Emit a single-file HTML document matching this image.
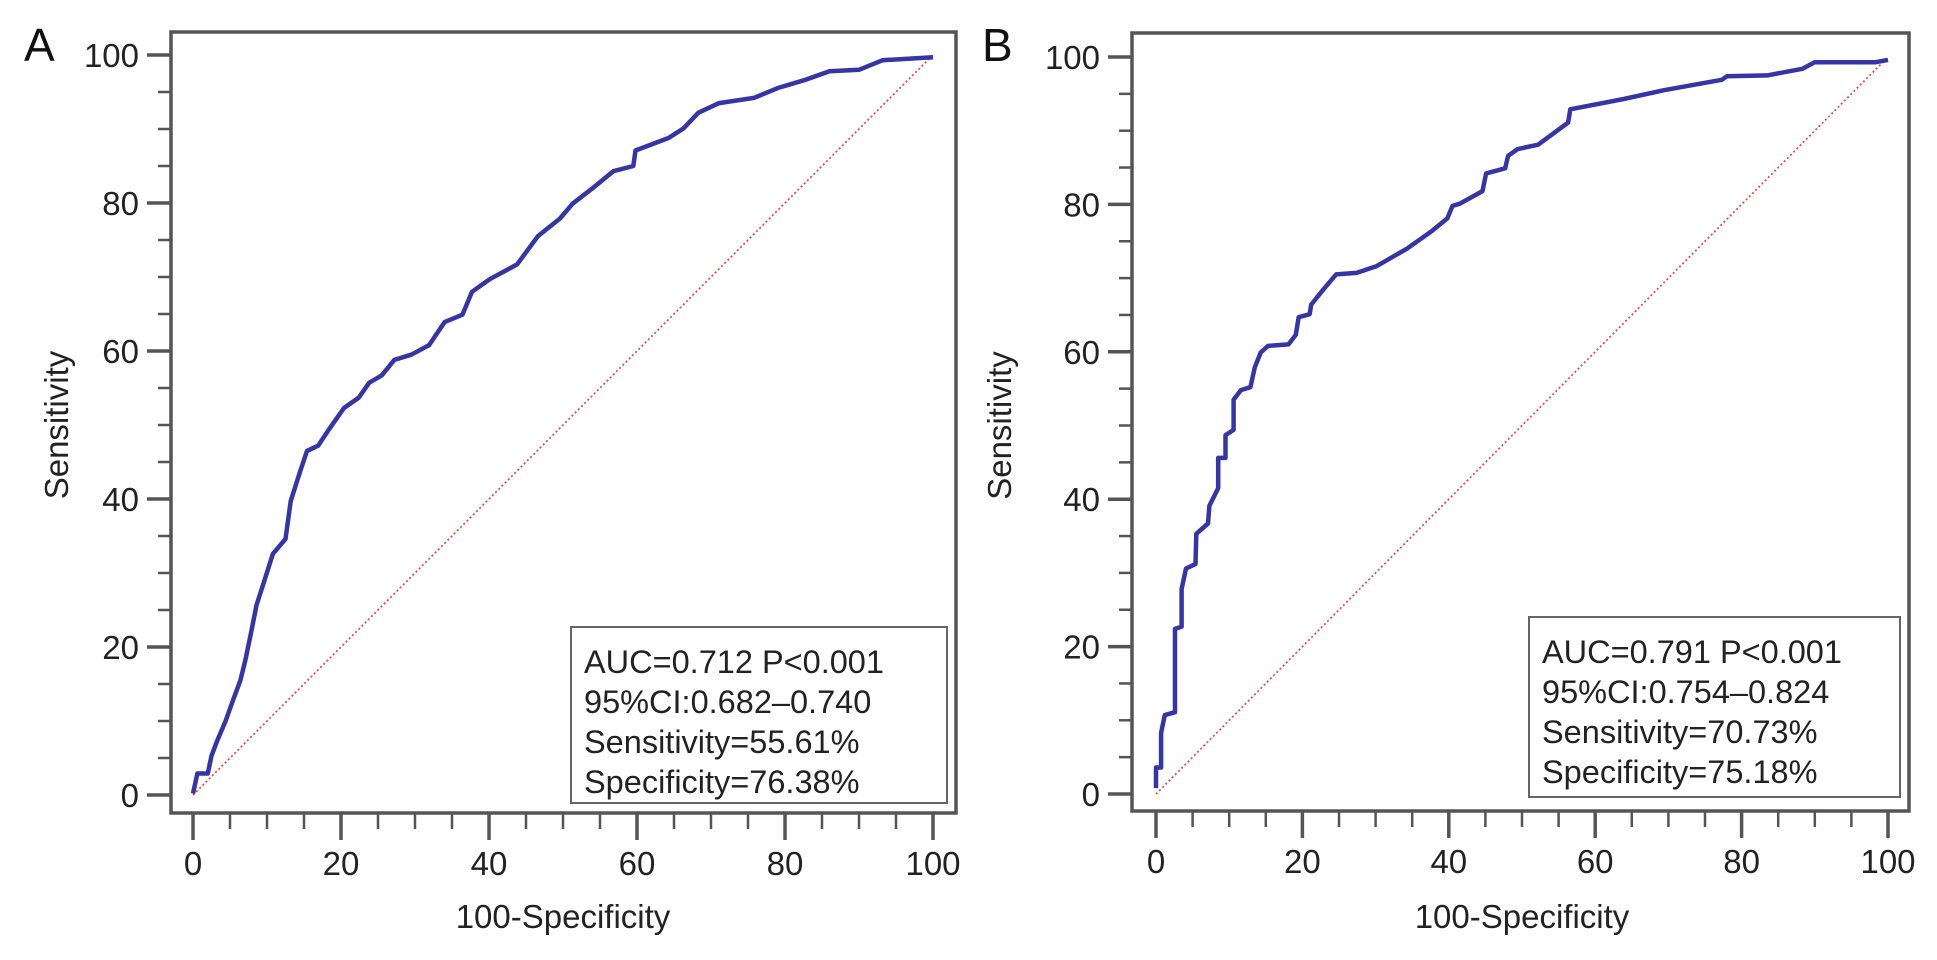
<!DOCTYPE html>
<html><head><meta charset="utf-8"><style>
html,body{margin:0;padding:0;background:#fff;}
svg{display:block;font-family:"Liberation Sans",Arial,sans-serif;}
</style></head><body>
<svg id="chart" width="1937" height="960" viewBox="0 0 1937 960" xmlns="http://www.w3.org/2000/svg"></svg>
<script>
// Panel A data
const aFpr = [0,0.6,2,2.5,3.3,4.4,5.4,6.4,7.1,7.8,8.6,9.5,10.8,12.5,13.2,14.4,15.4,16.9,18.3,20.4,22.4,23.8,25.5,27.2,29.5,31.9,34,36.4,37.7,40.1,43.8,46.6,49.6,51.3,54,56.8,59.5,59.8,64.3,66.3,68.3,71.1,75.8,79.2,82.6,86,90,93.2,100];
const aTpr = [0.2,2.9,2.9,5.3,7.4,10,12.8,15.5,18.3,21.7,25.7,28.5,32.6,34.6,39.7,43.5,46.5,47.2,49.3,52.3,53.7,55.7,56.7,58.8,59.5,60.8,63.9,64.9,68,69.7,71.7,75.5,77.9,79.9,82,84.3,85,87.1,88.8,90.1,92.2,93.5,94.2,95.6,96.6,97.8,98,99.3,99.7];
// Panel B data
const bFpr = [0,0,0.7,0.7,1.2,2.6,2.6,3.5,3.5,4.1,5.4,5.5,7.1,7.3,8.5,8.5,9.5,9.5,10.6,10.6,11.6,12.9,13.5,14.3,15.3,18.1,19.1,19.5,21,21.2,22.9,24.6,27.4,30.1,34.3,37.7,39.8,40.5,41.5,44.6,45.1,47.7,48.1,49.4,52.2,56.3,56.6,63.9,69.4,77.3,78,83.5,88.3,90,98.3,100];
const bTpr = [0.8,3.6,3.6,8.3,10.7,11.1,22.4,22.7,27.8,30.6,31.2,35.3,36.7,39.1,41.5,45.6,45.6,48.7,49.4,53.5,54.8,55.2,57.9,59.9,60.8,61,62.3,64.7,65.1,66.4,68.5,70.5,70.7,71.6,74,76.4,78.1,79.8,80.1,81.8,84.2,84.9,86.6,87.5,88.1,91.1,92.9,94.3,95.5,96.9,97.4,97.5,98.4,99.3,99.3,99.6];
const majorTicks = [0,20,40,60,80,100];
const minorTicks = [5,10,15,25,30,35,45,50,55,65,70,75,85,90,95];
const aLegend = ["AUC=0.712 P<0.001","95%CI:0.682\u20130.740","Sensitivity=55.61%","Specificity=76.38%"];
const bLegend = ["AUC=0.791 P<0.001","95%CI:0.754\u20130.824","Sensitivity=70.73%","Specificity=75.18%"];

const NS="http://www.w3.org/2000/svg";
const svg=document.getElementById('chart');
function mk(tag,attrs,parent,text){const e=document.createElementNS(NS,tag);for(const k in attrs)e.setAttribute(k,attrs[k]);if(text!==undefined)e.textContent=text;(parent||svg).appendChild(e);return e;}

function panel(cfg){
  const g=mk('g',{});
  
  
  const sx=v=>cfg.x0+(cfg.x100-cfg.x0)*v/100;
  const sy=v=>cfg.y0+(cfg.y100-cfg.y0)*v/100;
  const lbl=mk('text',{x:cfg.letterX,y:61,'font-size':46,fill:'#111'},g,cfg.id);
  
  
  const fr=mk('rect',{x:cfg.fl,y:cfg.ft,width:cfg.fr-cfg.fl,height:cfg.fb-cfg.ft,fill:'none',stroke:'#555',"stroke-width":3.5},g);
  
  
  majorTicks.forEach(t=>{
    const yt=mk('line',{x1:cfg.fl-24,x2:cfg.fl,y1:sy(t),y2:sy(t),stroke:'#555','stroke-width':3.5},g);
    
    
    const yl=mk('text',{x:cfg.fl-32,y:sy(t)+12,'font-size':33,'text-anchor':'end',fill:'#222'},g,String(t));
    
    
    const xt=mk('line',{x1:sx(t),x2:sx(t),y1:cfg.fb,y2:cfg.fb+27,stroke:'#555','stroke-width':3.5},g);
    
    
    const xl=mk('text',{x:sx(t),y:cfg.fb+62,'font-size':33,'text-anchor':'middle',fill:'#222'},g,String(t));
    
    
  });
  minorTicks.forEach(t=>{
    const yt=mk('line',{x1:cfg.fl-13,x2:cfg.fl,y1:sy(t),y2:sy(t),stroke:'#555','stroke-width':2.5},g);
    
    
    const xt=mk('line',{x1:sx(t),x2:sx(t),y1:cfg.fb,y2:cfg.fb+16,stroke:'#555','stroke-width':2.5},g);
    
    
  });
  const xt=mk('text',{x:(sx(0)+sx(100))/2,y:928,'font-size':33,'text-anchor':'middle',fill:'#222'},g,'100-Specificity');
  
  
  const cy=(sy(0)+sy(100))/2;
  const yt=mk('text',{x:cfg.ytX,y:cy,'font-size':33,'text-anchor':'middle',fill:'#222',transform:`rotate(-90 ${cfg.ytX} ${cy})`},g,'Sensitivity');
  
  
  const d=mk('line',{x1:sx(0),y1:sy(0),x2:sx(100),y2:sy(100),stroke:'#e0504a','stroke-width':1.8,'stroke-dasharray':'2,2.5'},g);
  
  
  const pts=cfg.fpr.map((v,i)=>sx(v).toFixed(1)+','+sy(cfg.tpr[i]).toFixed(1)).join(' ');
  const c=mk('polyline',{points:pts,fill:'none',stroke:'#3535a8','stroke-width':4.5,'stroke-linejoin':'round'},g);
  
  
  const lg=mk('g',{},g);
  
  
  mk('rect',{x:cfg.lx,y:cfg.ly,width:cfg.lw,height:cfg.lh,fill:'#fff',stroke:'#666','stroke-width':2},lg);
  cfg.legend.forEach((s,i)=>{
    const t=mk('text',{x:cfg.lx+13,y:cfg.ly+46+i*40,'font-size':32.5,fill:'#222'},lg,s);
    
    
  });
}
panel({id:'A',letterX:24,fl:171,ft:32,fr:956,fb:813,x0:193,x100:933,y0:795,y100:55,ytX:68,fpr:aFpr,tpr:aTpr,legend:aLegend,lx:571,ly:627,lw:376,lh:176});
panel({id:'B',letterX:982,fl:1132,ft:33,fr:1909,fb:811,x0:1156,x100:1888,y0:794,y100:57,ytX:1011,fpr:bFpr,tpr:bTpr,legend:bLegend,lx:1529,ly:617,lw:371,lh:180});
</script>
</body></html>
